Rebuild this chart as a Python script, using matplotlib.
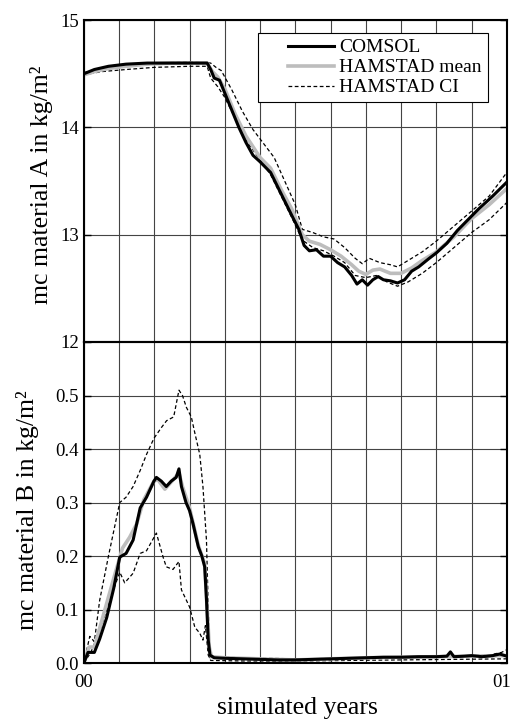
import numpy as np
import matplotlib.pyplot as plt
import matplotlib.transforms as mtransforms
from matplotlib.lines import Line2D
from matplotlib.legend_handler import HandlerLine2D

plt.rcParams['font.family'] = ['Liberation Serif', 'DejaVu Serif']

# ---- material A (top panel), x in months of the simulated year ----
a_comsol_x = [0, 0.3, 0.7, 1.2, 1.8, 2.5, 3.0, 3.5, 3.6, 3.7, 3.85, 4.0, 4.2, 4.4, 4.6,
              4.8, 5.0, 5.3, 5.6, 5.9, 6.1, 6.25, 6.4, 6.6, 6.8, 7.0, 7.2, 7.4, 7.6,
              7.75, 7.9, 8.05, 8.2, 8.35, 8.5, 8.7, 8.9, 9.1, 9.3, 9.5, 9.8, 10.0,
              10.3, 10.6, 10.9, 11.2, 11.6, 12.0]
a_comsol_y = [14.50, 14.54, 14.57, 14.59, 14.60, 14.60, 14.60, 14.60, 14.54, 14.46, 14.44,
              14.32, 14.16, 14.00, 13.86, 13.74, 13.68, 13.58, 13.38, 13.18, 13.05,
              12.90, 12.85, 12.86, 12.80, 12.80, 12.74, 12.70, 12.62, 12.54, 12.58,
              12.53, 12.58, 12.61, 12.58, 12.57, 12.55, 12.58, 12.66, 12.70, 12.78,
              12.83, 12.92, 13.04, 13.14, 13.24, 13.36, 13.49]

a_mean_x = [0, 0.3, 0.7, 1.2, 1.8, 2.5, 3.0, 3.5, 3.65, 3.8, 4.0, 4.3, 4.6, 5.0,
            5.3, 5.6, 5.9, 6.2, 6.4, 6.7, 7.0, 7.3, 7.6, 7.8, 8.0, 8.2, 8.4, 8.7,
            9.0, 9.3, 9.6, 10.0, 10.5, 11.0, 11.5, 12.0]
a_mean_y = [14.49, 14.52, 14.55, 14.57, 14.59, 14.60, 14.60, 14.60, 14.52, 14.47, 14.36,
            14.12, 13.92, 13.72, 13.62, 13.42, 13.24, 13.00, 12.94, 12.91, 12.86,
            12.80, 12.72, 12.66, 12.63, 12.67, 12.68, 12.64, 12.64, 12.69, 12.76,
            12.84, 12.98, 13.15, 13.28, 13.43]

a_ci_hi_x = [0, 0.5, 1.2, 2.0, 3.0, 3.6, 3.75, 3.9, 4.2, 4.5, 4.8, 5.1, 5.4, 5.7,
             6.0, 6.2, 6.5, 6.8, 7.1, 7.4, 7.7, 7.9, 8.1, 8.4, 8.7, 8.9, 9.2, 9.6,
             10.0, 10.5, 11.0, 11.5, 12.0]
a_ci_hi_y = [14.51, 14.55, 14.58, 14.60, 14.61, 14.60, 14.56, 14.53, 14.35, 14.15, 13.98,
             13.85, 13.72, 13.50, 13.28, 13.05, 13.02, 12.98, 12.96, 12.88, 12.78,
             12.73, 12.78, 12.74, 12.72, 12.70, 12.76, 12.84, 12.94, 13.08, 13.22,
             13.36, 13.58]

a_ci_lo_x = [0, 0.5, 1.2, 2.0, 3.0, 3.5, 3.6, 3.8, 4.0, 4.3, 4.6, 5.0, 5.3, 5.6,
             5.9, 6.2, 6.5, 6.8, 7.1, 7.4, 7.7, 8.0, 8.3, 8.6, 8.9, 9.2, 9.6, 10.0,
             10.5, 11.0, 11.5, 12.0]
a_ci_lo_y = [14.49, 14.52, 14.54, 14.56, 14.57, 14.57, 14.46, 14.38, 14.28, 14.08, 13.88,
             13.70, 13.56, 13.36, 13.16, 12.95, 12.88, 12.85, 12.80, 12.74, 12.62,
             12.60, 12.62, 12.56, 12.52, 12.56, 12.64, 12.74, 12.88, 13.02, 13.14,
             13.30]

# ---- material B (bottom panel) ----
b_comsol_x = [0, 0.12, 0.3, 0.45, 0.65, 0.85, 1.02, 1.2, 1.4, 1.6, 1.78, 1.99, 2.06,
              2.2, 2.34, 2.48, 2.62, 2.7, 2.77, 2.9, 3.0, 3.1, 3.25, 3.35, 3.43, 3.48,
              3.53, 3.58, 3.7, 4.0, 4.5, 5.0, 5.5, 6.0, 6.5, 7.0, 7.5, 8.0, 8.5, 9.0,
              9.5, 10.0, 10.3, 10.4, 10.5, 10.8, 11.0, 11.3, 11.6, 11.8, 12.0]
b_comsol_y = [0.0, 0.02, 0.02, 0.045, 0.085, 0.14, 0.198, 0.205, 0.23, 0.29, 0.31, 0.34,
              0.347, 0.34, 0.33, 0.34, 0.347, 0.363, 0.33, 0.30, 0.285, 0.26, 0.217,
              0.20, 0.18, 0.12, 0.043, 0.015, 0.01, 0.009, 0.008, 0.007, 0.006, 0.006,
              0.007, 0.008, 0.009, 0.010, 0.011, 0.011, 0.012, 0.012, 0.013, 0.021,
              0.012, 0.013, 0.014, 0.012, 0.014, 0.017, 0.013]

b_mean_x = [0, 0.15, 0.3, 0.6, 0.9, 1.1, 1.3, 1.5, 1.7, 1.99, 2.1, 2.3, 2.5, 2.7,
            2.8, 3.0, 3.25, 3.43, 3.5, 3.56, 3.62, 4.0, 5.0, 6.0, 7.0, 8.0, 9.0, 10.0,
            11.0, 12.0]
b_mean_y = [0.0, 0.03, 0.03, 0.1, 0.17, 0.215, 0.235, 0.26, 0.305, 0.34, 0.343, 0.325,
            0.34, 0.355, 0.33, 0.29, 0.22, 0.185, 0.1, 0.03, 0.012, 0.01, 0.008, 0.006,
            0.008, 0.01, 0.011, 0.012, 0.013, 0.014]

b_ci_hi_x = [0, 0.17, 0.3, 0.45, 0.7, 1.02, 1.2, 1.4, 1.6, 1.78, 1.99, 2.2, 2.35,
             2.55, 2.7, 2.8, 2.91, 3.05, 3.15, 3.29, 3.38, 3.48, 3.53, 3.58, 3.7, 4.5,
             6.0, 7.5, 9.0, 10.5, 11.5, 11.85, 12.0]
b_ci_hi_y = [0.0, 0.05, 0.04, 0.117, 0.2, 0.30, 0.31, 0.33, 0.36, 0.39, 0.42, 0.44,
             0.453, 0.46, 0.51, 0.50, 0.478, 0.46, 0.43, 0.39, 0.33, 0.23, 0.105,
             0.01, 0.012, 0.01, 0.008, 0.009, 0.012, 0.013, 0.015, 0.02, 0.025]

b_ci_lo_x = [0, 0.2, 0.45, 0.7, 1.02, 1.16, 1.4, 1.6, 1.78, 2.06, 2.25, 2.34, 2.53,
             2.7, 2.77, 3.0, 3.15, 3.29, 3.38, 3.45, 3.53, 3.6, 4.5, 6.0, 7.5, 9.0,
             10.5, 12.0]
b_ci_lo_y = [0.0, 0.02, 0.06, 0.11, 0.17, 0.15, 0.168, 0.205, 0.21, 0.243, 0.198, 0.18,
             0.175, 0.19, 0.137, 0.105, 0.067, 0.056, 0.043, 0.07, 0.015, 0.005,
             0.004, 0.004, 0.005, 0.006, 0.007, 0.008]

months = list(range(13))
month_labels = ['00'] + [''] * 11 + ['01']
a_ticks = [12, 13, 14, 15]
b_ticks = [0.0, 0.1, 0.2, 0.3, 0.4, 0.5]

LABEL_FS = 18.5
TICK_FS = 13.5


class ShortLineHandler(HandlerLine2D):
    # legend line drawn only on the right part of the handle box (leaves blank space on the left)
    def create_artists(self, legend, orig_handle, xdescent, ydescent, width, height,
                       fontsize, trans):
        arts = super().create_artists(legend, orig_handle, xdescent, ydescent, width,
                                      height, fontsize, trans)
        for a in arts:
            xd = np.asarray(a.get_xdata(), dtype=float)
            if len(xd) >= 2:
                x0, x1 = xd.min(), xd.max()
                a.set_xdata(np.linspace(x0 + 0.35 * (x1 - x0), x1, len(xd)))
        return arts


fig = plt.figure(figsize=(5.14, 7.2), dpi=100)
ax1 = fig.add_axes([0.163, 0.525, 0.823, 0.447])
ax2 = fig.add_axes([0.163, 0.079, 0.823, 0.446])

for ax in (ax1, ax2):
    ax.set_xlim(0, 12)
    ax.set_xticks(months)
    ax.grid(True, color='#444444', linewidth=0.8)
    ax.set_axisbelow(True)
    ax.tick_params(direction='in', left=True, right=True, top=False, bottom=False,
                   labelsize=TICK_FS, length=5, width=1)
    for s in ax.spines.values():
        s.set_linewidth(1.5)

ci_style = dict(color='black', linestyle='--', linewidth=0.9, dashes=(3, 2))

# top panel
ax1.plot(a_ci_hi_x, a_ci_hi_y, **ci_style)
ax1.plot(a_ci_lo_x, a_ci_lo_y, **ci_style)
ax1.plot(a_mean_x, a_mean_y, color='#bdbdbd', linewidth=2.6)
ax1.plot(a_comsol_x, a_comsol_y, color='black', linewidth=2.2)
ax1.set_ylim(12, 15)
ax1.set_yticks(a_ticks)
ax1.set_yticklabels([str(t) for t in a_ticks])
ax1.set_xticklabels([''] * 13)
ax1.set_ylabel('mc material A in kg/m²', fontsize=LABEL_FS, va='center')
ax1.yaxis.set_label_coords(-0.099, 0.49)

handles = [Line2D([], [], color='black', linewidth=2.2),
           Line2D([], [], color='#bdbdbd', linewidth=2.6),
           Line2D([], [], **ci_style)]
leg = ax1.legend(handles, ['COMSOL', 'HAMSTAD mean', 'HAMSTAD CI'], loc='upper right',
                 bbox_to_anchor=(0.955, 0.96), fontsize=TICK_FS + 0.5, fancybox=False,
                 framealpha=1, edgecolor='black', handlelength=3.6, handletextpad=0.3,
                 borderpad=0.3, labelspacing=0.12, borderaxespad=0,
                 handler_map={Line2D: ShortLineHandler()})
leg.get_frame().set_linewidth(0.8)

# bottom panel
ax2.plot(b_ci_hi_x, b_ci_hi_y, **ci_style)
ax2.plot(b_ci_lo_x, b_ci_lo_y, **ci_style)
ax2.plot(b_mean_x, b_mean_y, color='#bdbdbd', linewidth=2.6)
ax2.plot(b_comsol_x, b_comsol_y, color='black', linewidth=2.2)
ax2.set_ylim(0, 0.6)
ax2.set_yticks(b_ticks + [0.6])
ax2.set_yticklabels(['%.1f' % t for t in b_ticks] + [''])
ax2.set_xticklabels(month_labels)
ax2.tick_params(axis='x', pad=8)
# pull the end label slightly inside the figure
last = ax2.get_xticklabels()[-1]
last.set_transform(last.get_transform() +
                   mtransforms.ScaledTranslation(-5 / 100, 0, fig.dpi_scale_trans))
ax2.set_ylabel('mc material B in kg/m²', fontsize=LABEL_FS, va='center')
ax2.yaxis.set_label_coords(-0.132, 0.477)
ax2.set_xlabel('simulated years', fontsize=LABEL_FS, va='center')
ax2.xaxis.set_label_coords(0.506, -0.14)

fig.savefig('out.png', dpi=100)
